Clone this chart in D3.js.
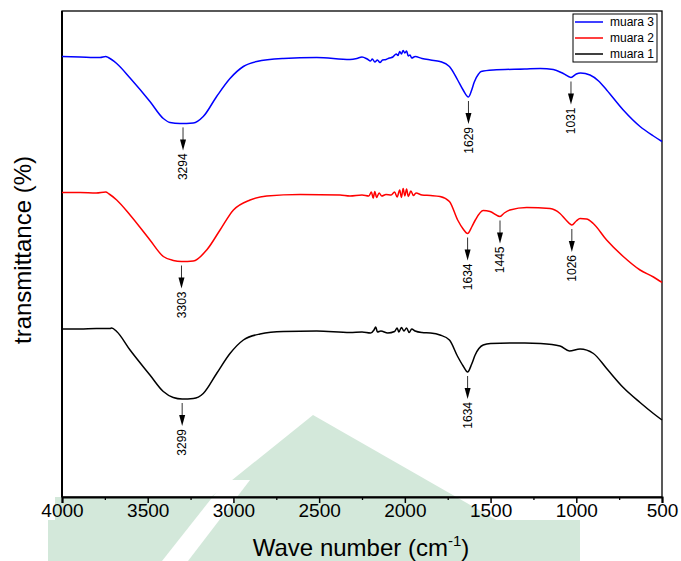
<!DOCTYPE html>
<html>
<head>
<meta charset="utf-8">
<script src="https://cdn.jsdelivr.net/npm/d3@7"></script>
<style>
  body { margin: 0; background: #fff; }
  svg { display: block; font-family: "Liberation Sans", Arial, sans-serif; }
</style>
</head>
<body>
<script>
// ---------------- data (wave number cm-1, transmittance, arbitrary offset units) ----------------
var xTicks = [4000, 3500, 3000, 2500, 2000, 1500, 1000, 500];
var xMinorTicks = [3750, 3250, 2750, 2250, 1750, 1250, 750];
var seriesNames = ["muara 3", "muara 2", "muara 1"];
var seriesColors = ["#0000ff", "#ff0000", "#000000"];

var muara3 = [
  [4000, 88.1], [3895, 88.0], [3778, 87.9], [3745, 88.1], [3730, 87.9], [3681, 86.7], [3603, 83.8],
  [3487, 79.1], [3409, 75.7], [3370, 74.9], [3312, 74.7], [3234, 74.8], [3176, 76.1],
  [3098, 80.1], [3020, 83.7], [2942, 86.1], [2864, 87.1], [2709, 87.7], [2514, 87.9],
  [2320, 87.5], [2280, 87.7], [2250, 88.0], [2220, 87.6], [2200, 87.2], [2190, 87.6],
  [2175, 87.0], [2160, 87.4], [2145, 86.9], [2130, 87.4], [2110, 87.5], [2090, 87.8],
  [2070, 88.0], [2050, 88.6], [2040, 88.3], [2030, 89.1], [2020, 88.6], [2010, 89.3],
  [2000, 88.8], [1990, 89.2], [1980, 88.2], [1970, 88.4], [1960, 87.8], [1940, 88.1],
  [1900, 87.7], [1850, 87.4], [1795, 87.1], [1740, 86.1], [1692, 83.4], [1660, 81.4],
  [1629, 80.0], [1610, 81.4], [1595, 83.0], [1570, 84.6], [1555, 85.1], [1484, 85.4],
  [1300, 85.6], [1210, 85.7], [1134, 85.5], [1076, 84.7], [1031, 83.9], [1000, 84.6],
  [975, 84.8], [920, 84.4], [870, 83.2], [823, 81.4], [726, 77.4], [628, 74.1],
  [550, 72.2], [500, 71.1]
];

var muara2 = [
  [4000, 60.9], [3895, 60.9], [3800, 60.8], [3745, 61.0], [3725, 60.6], [3681, 59.4],
  [3603, 56.4], [3487, 51.4], [3409, 48.1], [3351, 47.3], [3303, 47.1], [3234, 47.2],
  [3156, 49.4], [3078, 53.4], [3000, 57.4], [2903, 59.4], [2806, 60.2], [2611, 60.5],
  [2378, 60.4], [2320, 60.2], [2250, 60.4], [2210, 60.2], [2195, 61.0], [2185, 59.8],
  [2175, 61.1], [2165, 59.9], [2150, 60.8], [2135, 60.2], [2110, 60.5], [2080, 60.4],
  [2060, 61.0], [2045, 60.0], [2030, 61.4], [2020, 59.9], [2010, 61.7], [2000, 60.2],
  [1990, 61.6], [1980, 60.1], [1965, 61.2], [1950, 60.3], [1935, 60.8], [1900, 60.4],
  [1850, 60.3], [1795, 60.1], [1740, 59.1], [1692, 55.4], [1660, 53.6], [1634, 52.7],
  [1610, 54.0], [1589, 55.4], [1543, 57.3], [1503, 57.1], [1445, 56.1], [1420, 56.8],
  [1387, 57.4], [1289, 57.9], [1153, 57.7], [1095, 56.7], [1060, 55.4], [1026, 54.4],
  [1000, 55.2], [978, 55.7], [940, 55.6], [901, 54.7], [823, 51.4], [726, 48.1],
  [628, 45.4], [550, 44.0], [500, 42.9]
];

var muara1 = [
  [4000, 33.6], [3895, 33.6], [3800, 33.7], [3720, 33.7], [3710, 33.8], [3681, 33.1],
  [3603, 29.4], [3487, 24.4], [3409, 21.1], [3351, 19.9], [3299, 19.6], [3234, 19.7],
  [3176, 20.7], [3098, 24.7], [3020, 28.7], [2942, 31.4], [2845, 32.6], [2709, 33.1],
  [2514, 33.2], [2320, 32.9], [2250, 33.0], [2200, 32.8], [2180, 33.4], [2170, 34.0],
  [2160, 33.0], [2140, 33.2], [2100, 32.8], [2060, 33.1], [2045, 33.8], [2035, 33.0],
  [2020, 33.9], [2005, 33.2], [1990, 33.8], [1975, 32.9], [1960, 33.6], [1940, 33.2],
  [1900, 32.9], [1850, 32.8], [1795, 32.4], [1740, 31.4], [1692, 28.1], [1660, 26.2],
  [1634, 25.0], [1610, 26.6], [1590, 28.4], [1543, 30.4], [1500, 30.7], [1300, 30.8],
  [1210, 30.7], [1095, 30.2], [1040, 29.2], [978, 29.6], [900, 28.7], [823, 25.7],
  [726, 21.9], [628, 18.9], [550, 16.7], [500, 15.4]
];

var seriesData = [muara3, muara2, muara1];

// peak labels: series index, wave number
var peakSeries = [0, 0, 0, 1, 1, 1, 1, 2, 2];
var peakWn = [3294, 1629, 1031, 3303, 1634, 1445, 1026, 3299, 1634];

// ---------------- layout ----------------
var W = 681, H = 561;
var margin = {top: 11, right: 19, bottom: 64, left: 62},
    w = W - margin.left - margin.right,
    h = H - margin.top - margin.bottom;

var x = d3.scaleLinear().domain([4000, 500]).range([0, w]);
var y = d3.scaleLinear().domain([0, 97.2]).range([h, 0]);

var svg0 = d3.select("body").append("svg")
  .attr("width", W)
  .attr("height", H);

// faint green watermark behind the chart
var wm = svg0.append("g").attr("fill", "#d3e8da");
wm.append("rect").attr("x", 48).attr("y", 520).attr("width", 532).attr("height", 41);
wm.append("polygon").attr("points", "313,415 500,522 180,522");
wm.append("polygon").attr("points", "55,497 215,497 190,522 55,522");
wm.append("polygon").attr("points", "162,561 188,561 250,480 226,480").attr("fill", "#fff");

var svg = svg0.append("g")
  .attr("transform", "translate(" + margin.left + "," + margin.top + ")");

// frame
svg.append("rect")
  .attr("x", 0).attr("y", 0).attr("width", w).attr("height", h)
  .attr("fill", "none").attr("stroke", "#000").attr("stroke-width", 1.3);
svg.append("line").attr("x1", 0).attr("x2", 0).attr("y1", 0).attr("y2", h)
  .attr("stroke", "#000").attr("stroke-width", 2);

// x axis, major + minor ticks
var xAxis = d3.axisBottom(x).tickValues(xTicks).tickSize(6).tickPadding(1).tickFormat(d3.format("d"));
var gx = svg.append("g").attr("transform", "translate(0," + h + ")").call(xAxis);
gx.select(".domain").attr("stroke-width", 2);
gx.selectAll(".tick line").attr("stroke-width", 1.5);
gx.selectAll("text").attr("font-size", 19).attr("font-family", "Liberation Sans, Arial, sans-serif").attr("fill", "#000");

var gxm = svg.append("g").attr("transform", "translate(0," + h + ")")
  .call(d3.axisBottom(x).tickValues(xMinorTicks).tickSize(3).tickFormat(""));
gxm.select(".domain").remove();
gxm.selectAll(".tick line").attr("stroke-width", 1.3);

// spectra
var line = d3.line()
  .x(function(d) { return x(d[0]); })
  .y(function(d) { return y(d[1]); })
  .curve(d3.curveMonotoneX);

seriesData.forEach(function(s, i) {
  svg.append("path")
    .datum(s)
    .attr("fill", "none")
    .attr("stroke", seriesColors[i])
    .attr("stroke-width", 1.5)
    .attr("stroke-linejoin", "round")
    .attr("d", line);
});

// value of a series at a given wave number (linear between points)
function valueAt(s, wn) {
  for (var k = 0; k < s.length - 1; k++) {
    if (wn <= s[k][0] && wn >= s[k + 1][0]) {
      var t = (s[k][0] - wn) / (s[k][0] - s[k + 1][0]);
      return s[k][1] + t * (s[k + 1][1] - s[k][1]);
    }
  }
  return s[s.length - 1][1];
}

// peak arrows with rotated labels
var ann = svg.append("g");
peakWn.forEach(function(wn, i) {
  var px = x(wn);
  var py = y(valueAt(seriesData[peakSeries[i]], wn));
  var y0 = py + 4, tip = py + 27;
  ann.append("line")
    .attr("x1", px).attr("x2", px).attr("y1", y0).attr("y2", tip - 9)
    .attr("stroke", "#333").attr("stroke-width", 1);
  ann.append("path")
    .attr("d", "M" + (px - 3) + "," + (tip - 11) + "L" + (px + 3) + "," + (tip - 11) + "L" + px + "," + tip + "Z")
    .attr("fill", "#000");
  ann.append("text")
    .attr("transform", "translate(" + px + "," + (tip + 3) + ") rotate(-90)")
    .attr("text-anchor", "end")
    .attr("dy", "0.35em")
    .attr("font-size", 12)
    .text(wn);
});

// legend
var lg = svg0.append("g");
lg.append("rect").attr("x", 573).attr("y", 14).attr("width", 84).attr("height", 48)
  .attr("fill", "#fff").attr("stroke", "#000").attr("stroke-width", 1);
seriesNames.forEach(function(n, i) {
  var ly = 22 + i * 16;
  lg.append("line").attr("x1", 575).attr("x2", 603).attr("y1", ly).attr("y2", ly)
    .attr("stroke", seriesColors[i]).attr("stroke-width", 1.5);
  lg.append("text").attr("x", 610).attr("y", ly).attr("dy", "0.35em")
    .attr("font-size", 12).text(n);
});

// axis titles
svg0.append("text")
  .attr("transform", "translate(23,250) rotate(-90)")
  .attr("text-anchor", "middle")
  .attr("dy", "0.35em")
  .attr("font-size", 24)
  .text("transmittance (%)");

var xt = svg0.append("text")
  .attr("x", 361)
  .attr("y", 556)
  .attr("text-anchor", "middle")
  .attr("font-size", 24);
xt.append("tspan").text("Wave number (cm");
xt.append("tspan").attr("dy", -10).attr("font-size", 15).text("-1");
xt.append("tspan").attr("dy", 10).text(")");
</script>
</body>
</html>
